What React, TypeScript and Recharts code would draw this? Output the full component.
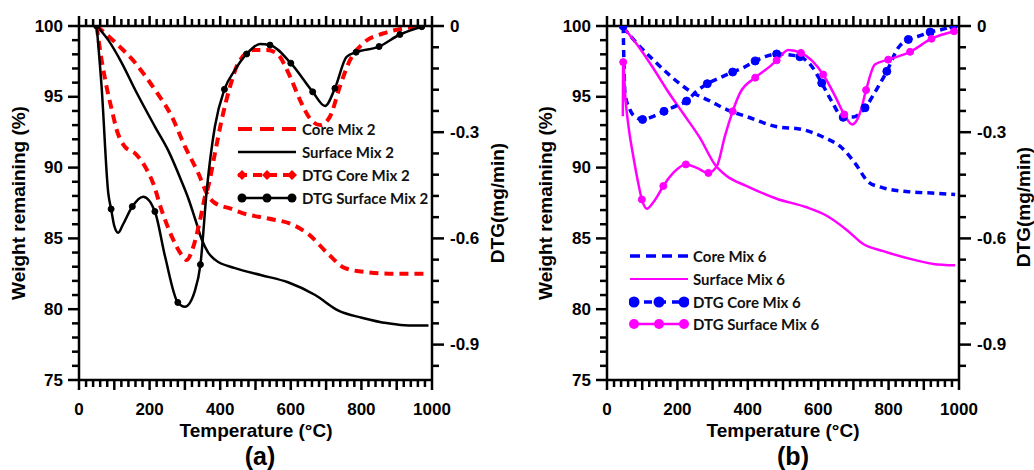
import React from 'react';
import { ComposedChart, Line, XAxis, YAxis } from 'recharts';

type Pt = [number, number];

// ---- panel (a): weight remaining (%) vs temperature
const core2: Pt[] = [[50, 100], [100, 98.9], [159, 97.4], [215, 95.5], [263, 93.6], [300, 91.5], [338, 89.6], [366, 88.0], [385, 87.5], [430, 87.1], [461, 86.8], [536, 86.4], [602, 86.0], [650, 85.3], [706, 83.9], [754, 82.9], [820, 82.6], [895, 82.5], [985, 82.5]];
const surf2: Pt[] = [[50, 100], [83, 99.0], [121, 97.4], [159, 95.5], [215, 92.9], [253, 91.2], [291, 89.0], [310, 87.8], [330, 86.3], [348, 84.9], [366, 84.0], [385, 83.5], [442, 82.9], [517, 82.4], [592, 81.9], [669, 81.0], [735, 79.9], [801, 79.4], [876, 79.0], [933, 78.85], [990, 78.85]];
// ---- panel (a): DTG (mg/min)
const dtgCore2: Pt[] = [[50, 0], [64, -0.096], [78, -0.171], [93, -0.237], [107, -0.294], [130, -0.341], [159, -0.36], [187, -0.397], [210, -0.444], [234, -0.52], [263, -0.595], [291, -0.647], [305, -0.661], [324, -0.623], [343, -0.548], [357, -0.482], [366, -0.454], [385, -0.36], [404, -0.266], [428, -0.171], [451, -0.105], [494, -0.068], [532, -0.068], [560, -0.077], [598, -0.143], [626, -0.209], [654, -0.261], [683, -0.28], [711, -0.256], [739, -0.171], [768, -0.096], [805, -0.049], [862, -0.021], [919, -0.007], [975, 0]];
const dtgSurf2: Pt[] = [[50, 0], [64, -0.171], [83, -0.473], [91, -0.517], [100, -0.565], [111, -0.584], [125, -0.56], [151, -0.51], [182, -0.482], [215, -0.524], [244, -0.652], [280, -0.781], [300, -0.793], [329, -0.746], [344, -0.674], [362, -0.463], [385, -0.284], [412, -0.179], [442, -0.124], [475, -0.079], [513, -0.051], [541, -0.054], [600, -0.105], [662, -0.186], [697, -0.226], [725, -0.176], [758, -0.087], [785, -0.074], [850, -0.058], [909, -0.024], [971, -0.002]];
const dtgSurf2Marks = [50, 91, 151, 215, 280, 344, 412, 475, 541, 600, 662, 725, 785, 850, 909, 971];

// ---- panel (b)
const core6: Pt[] = [[46, 99.9], [84, 98.8], [132, 97.6], [179, 96.5], [236, 95.4], [293, 94.7], [340, 94.1], [397, 93.6], [480, 92.9], [553, 92.7], [619, 92.1], [667, 91.4], [705, 90.3], [742, 89.0], [780, 88.6], [856, 88.3], [922, 88.2], [989, 88.1]];
const surf6: Pt[] = [[50, 99.8], [94, 98.4], [132, 97.0], [170, 95.5], [217, 93.8], [264, 92.1], [307, 90.2], [340, 89.4], [397, 88.7], [482, 87.8], [567, 87.2], [624, 86.6], [681, 85.6], [728, 84.6], [785, 84.1], [870, 83.5], [927, 83.2], [989, 83.1]];
const dtgCore6: Pt[] = [[46, 0], [48, -0.1], [51, -0.189], [65, -0.236], [84, -0.259], [101, -0.264], [132, -0.255], [162, -0.241], [198, -0.225], [226, -0.212], [255, -0.184], [285, -0.163], [321, -0.146], [357, -0.13], [387, -0.118], [421, -0.099], [454, -0.085], [482, -0.079], [515, -0.081], [548, -0.087], [581, -0.113], [610, -0.161], [638, -0.212], [671, -0.258], [700, -0.257], [733, -0.231], [766, -0.179], [795, -0.128], [827, -0.062], [856, -0.038], [884, -0.029], [918, -0.017], [951, -0.01], [984, 0]];
const dtgCore6Marks = [46, 101, 162, 226, 285, 357, 421, 482, 548, 610, 671, 733, 795, 856, 918, 984];
const dtgSurf6: Pt[] = [[45, -0.255], [46, -0.102], [52, -0.2], [62, -0.29], [75, -0.37], [88, -0.44], [99, -0.49], [113, -0.516], [130, -0.5], [146, -0.476], [160, -0.452], [188, -0.415], [224, -0.391], [255, -0.401], [288, -0.415], [312, -0.396], [335, -0.311], [357, -0.241], [378, -0.189], [421, -0.146], [463, -0.114], [482, -0.097], [515, -0.068], [551, -0.076], [614, -0.137], [648, -0.198], [674, -0.25], [697, -0.278], [719, -0.245], [736, -0.181], [761, -0.109], [799, -0.095], [861, -0.073], [922, -0.036], [986, -0.015]];
const dtgSurf6Marks = [46, 99, 160, 224, 288, 357, 421, 482, 551, 614, 674, 736, 799, 861, 922, 986];

// ---- axis ticks
const xTicks = Array.from({ length: 51 }, (_, i) => i * 20);
const xLabels = [0, 200, 400, 600, 800, 1000];
const wTicks = Array.from({ length: 26 }, (_, i) => 75 + i);
const wLabels = [75, 80, 85, 90, 95, 100];
const dTicks = Array.from({ length: 17 }, (_, i) => -i * 6 / 100);
const dLabels = [0, -0.3, -0.6, -0.9];

const FONT = '"Liberation Sans", Arial, sans-serif';
const LEG_FONT = 'Lato, "Open Sans", sans-serif';
const tickText: React.CSSProperties = { fontFamily: FONT, fontWeight: 700, fontSize: 17, fill: '#000' };

const rows = (pts: Pt[]) => pts.map(([t, v]) => ({ t, v }));
const pick = (pts: Pt[], marks: number[]) => rows(pts.filter(([t]) => marks.includes(t)));
const near = (a: number, list: number[]) => list.some((b) => Math.abs(a - b) < 1e-6);

const TICK_W = 2.5;

const BottomTick = ({ x, y, payload }: any) => {
  const v = payload.value;
  return (
    <g>
      <line x1={x} x2={x} y1={y} y2={y + (v % 100 === 0 ? 10 : 7)} stroke="#000" strokeWidth={TICK_W} />
      {near(v, xLabels) && <text x={x} y={y + 35} textAnchor="middle" style={tickText}>{v}</text>}
    </g>
  );
};
const TopTick = ({ x, y, payload }: any) => (
  <line x1={x} x2={x} y1={y} y2={y - (payload.value % 100 === 0 ? 10 : 7)} stroke="#000" strokeWidth={TICK_W} />
);
const LeftTick = ({ x, y, payload }: any) => {
  const major = near(payload.value, wLabels);
  return (
    <g>
      <line x1={x} x2={x - (major ? 11 : 7)} y1={y} y2={y} stroke="#000" strokeWidth={TICK_W} />
      {major && <text x={x - 16} y={y} textAnchor="end" dominantBaseline="central" style={tickText}>{payload.value}</text>}
    </g>
  );
};
const RightTick = ({ x, y, payload }: any) => {
  const major = near(payload.value, dLabels);
  const v = payload.value;
  return (
    <g>
      <line x1={x} x2={x + (major ? 12 : 7)} y1={y} y2={y} stroke="#000" strokeWidth={TICK_W} />
      {major && <text x={x + 18} y={y} textAnchor="start" dominantBaseline="central" style={tickText}>{Math.abs(v) < 1e-9 ? '0' : v.toFixed(1)}</text>}
    </g>
  );
};

interface Curve { pts: Pt[]; axis: 'w' | 'd'; color: string; width: number; dash?: string; marks?: number[]; r?: number }
interface LegendItem { label: string; color: string; width: number; dash?: string; marker?: 'circle' | 'diamond'; r?: number }

const axisLine = { stroke: '#000', strokeWidth: 2.5 };

function Panel({ curves, margin }: { curves: Curve[]; margin: { top: number; right: number; bottom: number; left: number } }) {
  return (
    <ComposedChart width={517} height={470} margin={margin}>
      <XAxis xAxisId="top" orientation="top" dataKey="t" type="number" domain={[0, 1000]} allowDataOverflow ticks={xTicks} interval={0}
        height={20} tickSize={0} tickMargin={0} tickLine={false} axisLine={axisLine} tick={TopTick} />
      <XAxis xAxisId="bottom" orientation="bottom" dataKey="t" type="number" domain={[0, 1000]} allowDataOverflow ticks={xTicks} interval={0}
        height={30} tickSize={0} tickMargin={0} tickLine={false} axisLine={axisLine} tick={BottomTick} />
      <YAxis yAxisId="w" orientation="left" type="number" domain={[75, 100]} allowDataOverflow ticks={wTicks} interval={0}
        width={60} tickSize={0} tickMargin={0} tickLine={false} axisLine={axisLine} tick={LeftTick} />
      <YAxis yAxisId="d" orientation="right" type="number" domain={[-1, 0]} allowDataOverflow ticks={dTicks} interval={0}
        width={60} tickSize={0} tickMargin={0} tickLine={false} axisLine={axisLine} tick={RightTick} />
      {curves.map((c, i) => (
        <Line key={'c' + i} data={rows(c.pts)} dataKey="v" xAxisId={c.axis === 'w' ? 'top' : 'bottom'} yAxisId={c.axis}
          type="monotone" stroke={c.color} strokeWidth={c.width} strokeDasharray={c.dash} dot={false} activeDot={false}
          isAnimationActive={false} />
      ))}
      {curves.filter((c) => c.marks).map((c, i) => (
        <Line key={'m' + i} data={pick(c.pts, c.marks!)} dataKey="v" xAxisId="bottom" yAxisId="d" stroke="none"
          dot={{ r: c.r, fill: c.color, stroke: c.color, strokeWidth: 1 }} activeDot={false} isAnimationActive={false} />
      ))}
    </ComposedChart>
  );
}

function Sample({ item }: { item: LegendItem }) {
  const pos = [5, 30, 55];
  return (
    <svg width={60} height={16} style={{ display: 'block', flex: 'none' }}>
      <line x1={1} x2={59} y1={8} y2={8} stroke={item.color} strokeWidth={item.width} strokeDasharray={item.dash} />
      {item.marker === 'circle' && pos.map((p) => <circle key={p} cx={p} cy={8} r={item.r} fill={item.color} />)}
      {item.marker === 'diamond' && pos.map((p) => (
        <polygon key={p} points={`${p},${8 - item.r!} ${p + item.r!},8 ${p},${8 + item.r!} ${p - item.r!},8`} fill={item.color} />
      ))}
    </svg>
  );
}

function Legend({ items, left, tops, gap }: { items: LegendItem[]; left: number; tops: number[]; gap: number }) {
  return (
    <>
      {items.map((it, i) => (
        <div key={it.label} style={{ position: 'absolute', left, top: tops[i] - 8, height: 16, display: 'flex', alignItems: 'center' }}>
          <Sample item={it} />
          <span style={{ marginLeft: gap, fontFamily: LEG_FONT, fontWeight: 700, fontSize: 15, lineHeight: '16px', color: '#111', whiteSpace: 'nowrap' }}>
            {it.label}
          </span>
        </div>
      ))}
    </>
  );
}

const Title = ({ x, y, text, rotate, size = 19 }: { x: number; y: number; text: string; rotate?: boolean; size?: number }) => (
  <div style={{
    position: 'absolute', left: x, top: y, transform: `translate(-50%, -50%)${rotate ? ' rotate(-90deg)' : ''}`,
    fontFamily: FONT, fontWeight: 700, fontSize: size, whiteSpace: 'nowrap', lineHeight: 1, color: '#000',
  }}>{text}</div>
);

const RED = '#ff0000';
const BLUE = '#0000ff';
const MAG = '#ff00ff';

export default function App() {
  const curvesA: Curve[] = [
    { pts: core2, axis: 'w', color: RED, width: 4, dash: '9 6' },
    { pts: surf2, axis: 'w', color: '#000', width: 2.5 },
    { pts: dtgCore2, axis: 'd', color: RED, width: 4, dash: '9 6' },
    { pts: dtgSurf2, axis: 'd', color: '#000', width: 2.5, marks: dtgSurf2Marks, r: 3 },
  ];
  const curvesB: Curve[] = [
    { pts: core6, axis: 'w', color: BLUE, width: 3.5, dash: '7 5' },
    { pts: surf6, axis: 'w', color: MAG, width: 2.5 },
    { pts: dtgCore6, axis: 'd', color: BLUE, width: 3.5, dash: '7 5', marks: dtgCore6Marks, r: 4 },
    { pts: dtgSurf6, axis: 'd', color: MAG, width: 2.5, marks: dtgSurf6Marks, r: 3.5 },
  ];
  const legendA: LegendItem[] = [
    { label: 'Core Mix 2', color: RED, width: 4, dash: '14 8' },
    { label: 'Surface Mix 2', color: '#000', width: 2.5 },
    { label: 'DTG Core Mix 2', color: RED, width: 4, dash: '9 6', marker: 'diamond', r: 5 },
    { label: 'DTG Surface Mix 2', color: '#000', width: 2.5, marker: 'circle', r: 4.5 },
  ];
  const legendB: LegendItem[] = [
    { label: 'Core Mix 6', color: BLUE, width: 3.5, dash: '10 6' },
    { label: 'Surface Mix 6', color: MAG, width: 2 },
    { label: 'DTG Core Mix 6', color: BLUE, width: 3.5, dash: '8 6', marker: 'circle', r: 5.5 },
    { label: 'DTG Surface Mix 6', color: MAG, width: 2.5, marker: 'circle', r: 5 },
  ];

  return (
    <div style={{ position: 'absolute', left: 0, top: 0, width: 1034, height: 470, background: '#fff', overflow: 'hidden' }}>
      <div style={{ position: 'absolute', left: 0, top: 0 }}>
        <Panel curves={curvesA} margin={{ top: 6, right: 25, bottom: 60, left: 19 }} />
      </div>
      <div style={{ position: 'absolute', left: 517, top: 0 }}>
        <Panel curves={curvesB} margin={{ top: 6, right: 15, bottom: 60, left: 30 }} />
      </div>

      <Legend items={legendA} left={237} tops={[129, 152, 175, 198]} gap={5} />
      <Legend items={legendB} left={629} tops={[256, 279, 302, 324]} gap={4} />

      <Title x={18} y={203} text="Weight remaining (%)" rotate />
      <Title x={497} y={203} text="DTG(mg/min)" rotate />
      <Title x={256} y={430} text="Temperature (°C)" />
      <Title x={260} y={456} text="(a)" size={25} />

      <Title x={545} y={203} text="Weight remaining (%)" rotate />
      <Title x={1023} y={207} text="DTG(mg/min)" rotate />
      <Title x={783} y={430} text="Temperature (°C)" />
      <Title x={793} y={456} text="(b)" size={25} />
    </div>
  );
}
